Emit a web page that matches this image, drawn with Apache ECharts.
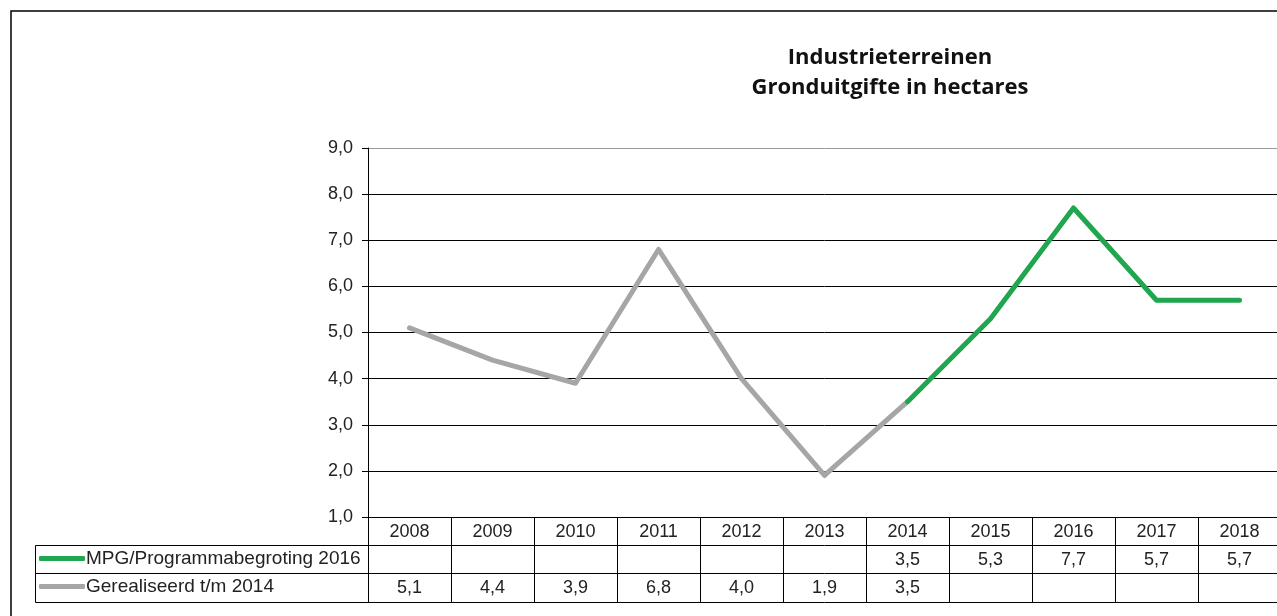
<!DOCTYPE html>
<html>
<head>
<meta charset="utf-8">
<script src="https://cdn.jsdelivr.net/npm/echarts@6/dist/echarts.min.js"></script>
<style>
  html, body { margin: 0; padding: 0; background: #fff; overflow: hidden; }
  #chart { width: 1290px; height: 616px; }
</style>
</head>
<body>
<div id="chart"></div>
<script>
// categories and values
const years = ['2008', '2009', '2010', '2011', '2012', '2013', '2014', '2015', '2016', '2017', '2018']
const mpgName = 'MPG/Programmabegroting 2016'
const realName = 'Gerealiseerd t/m 2014'
const mpgValues = [null, null, null, null, null, null, 3.5, 5.3, 7.7, 5.7, 5.7]
const realValues = [5.1, 4.4, 3.9, 6.8, 4.0, 1.9, 3.5, null, null, null, null]
const yTicks = [1, 2, 3, 4, 5, 6, 7, 8, 9]

const fmt = v => (v == null ? '' : v.toFixed(1).replace('.', ','))

const GREEN = '#1fa64e'
const GREY = '#a6a6a6'
const FONT = 'Liberation Sans'

const chart = echarts.init(document.getElementById('chart'), null, { renderer: 'canvas' })

// table rows as extra x-axes below the plot
const rowAxis = (labels, offset, showLabel) => ({
  type: 'category',
  data: labels,
  gridIndex: 0,
  position: 'bottom',
  offset: offset,
  boundaryGap: true,
  axisLine: { show: true, lineStyle: { color: '#000', width: 1 } },
  axisTick: { show: false },
  axisLabel: { show: showLabel, interval: 0, margin: 6, color: '#222', fontSize: 18, fontFamily: FONT },
  splitLine: { show: false },
})

const option = {
  animation: false,
  backgroundColor: '#fff',
  title: {
    text: 'Industrieterreinen\nGronduitgifte in hectares',
    left: 890,
    top: 43,
    padding: 0,
    textAlign: 'center',
    textStyle: { fontFamily: 'Open Sans', fontWeight: 'bold', fontSize: 22, lineHeight: 30, color: '#111' },
  },
  legend: {
    orient: 'vertical',
    left: 39,
    top: 549,
    padding: 0,
    itemGap: 9,
    itemWidth: 46,
    itemHeight: 5,
    data: [
      { name: mpgName, icon: 'roundRect' },
      { name: realName, icon: 'roundRect' },
    ],
    textStyle: { color: '#222', fontSize: 19, fontFamily: FONT, padding: [0, 0, 0, -4] },
  },
  grid: { left: 368, right: 9, top: 148, height: 369, containLabel: false },
  xAxis: [
    {
      type: 'category',
      data: years,
      gridIndex: 0,
      position: 'bottom',
      boundaryGap: true,
      axisLine: { show: true, lineStyle: { color: '#000', width: 1 } },
      axisTick: { show: true, interval: 0, length: 85, lineStyle: { color: '#000', width: 1 } },
      axisLabel: { interval: 0, margin: 6, color: '#222', fontSize: 18, fontFamily: FONT },
      splitLine: { show: false },
    },
    rowAxis(mpgValues.map(fmt), 28, true),
    rowAxis(realValues.map(fmt), 56, true),
    rowAxis(years.map(() => ''), 85, false),
  ],
  yAxis: {
    type: 'value',
    min: yTicks[0],
    max: yTicks[yTicks.length - 1],
    interval: 1,
    axisLine: { show: true, lineStyle: { color: '#000', width: 1 } },
    axisTick: { show: true, length: 6, lineStyle: { color: '#000' } },
    axisLabel: { margin: 15, color: '#222', fontSize: 18, fontFamily: FONT, formatter: v => fmt(v) },
    splitLine: {
      lineStyle: { color: ['#000', '#000', '#000', '#000', '#000', '#000', '#000', '#000', '#9a9a9a'], width: 1 },
    },
  },
  series: [
    {
      name: realName,
      type: 'line',
      data: realValues,
      showSymbol: false,
      symbol: 'none',
      connectNulls: false,
      lineStyle: { color: GREY, width: 5, join: 'round', cap: 'round' },
      itemStyle: { color: GREY },
      z: 3,
    },
    {
      name: mpgName,
      type: 'line',
      data: mpgValues,
      showSymbol: false,
      symbol: 'none',
      connectNulls: false,
      lineStyle: { color: GREEN, width: 5, join: 'round', cap: 'round' },
      itemStyle: { color: GREEN },
      z: 4,
    },
  ],
  graphic: [
    // outer frame
    { type: 'rect', shape: { x: 11, y: 11, width: 1400, height: 800 }, style: { fill: null, stroke: '#000', lineWidth: 1.5 }, silent: true },
    // legend box in front of the table rows
    { type: 'rect', shape: { x: 35.5, y: 545.5, width: 333, height: 57 }, style: { fill: null, stroke: '#000', lineWidth: 1 }, silent: true },
    { type: 'line', shape: { x1: 35.5, y1: 573.5, x2: 368, y2: 573.5 }, style: { stroke: '#000', lineWidth: 1 }, silent: true },
  ],
}

chart.setOption(option)
</script>
</body>
</html>
